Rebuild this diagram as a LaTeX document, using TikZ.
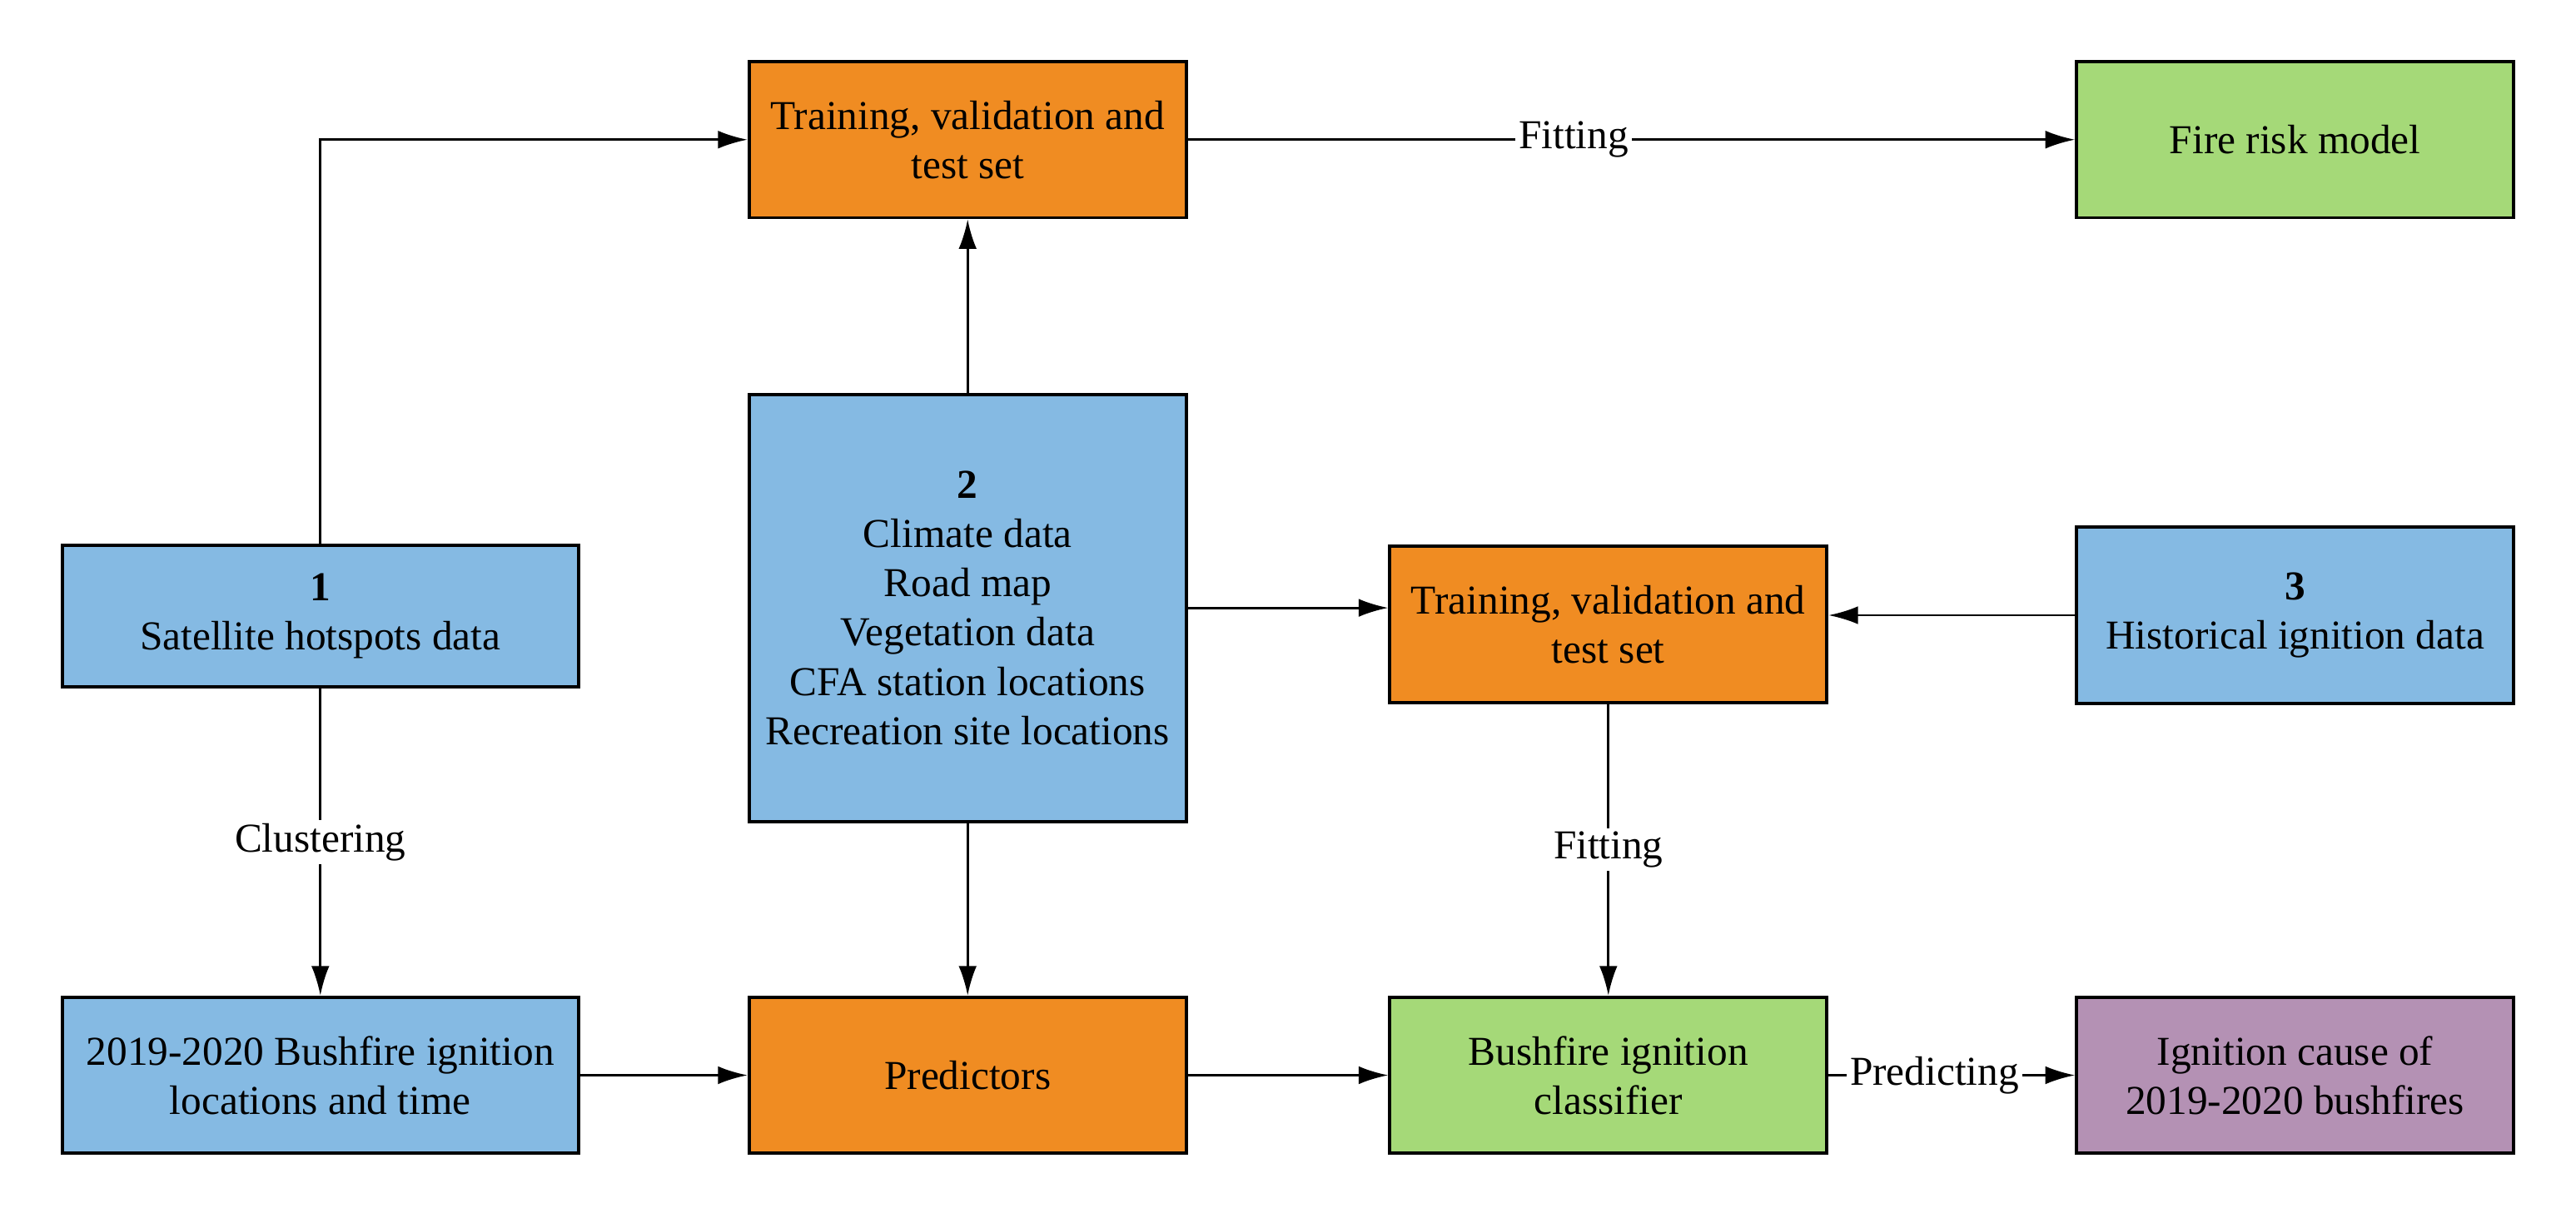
\documentclass[tikz,border=0pt]{standalone}
\usepackage{fontspec}
\setmainfont{Liberation Serif}
\usetikzlibrary{positioning, arrows.meta}
\definecolor{cblue}{RGB}{133,186,227}
\definecolor{orng}{RGB}{240,140,34}
\definecolor{lgrn}{RGB}{165,217,120}
\definecolor{prpl}{RGB}{180,145,180}
\begin{document}
\begin{tikzpicture}[x=0.5pt, y=-0.5pt,
               >= {Latex[length=9pt,width=5.5pt]},
every node/.style = {font=\fontsize{12.5}{15}\selectfont},
        box/.style = {rectangle, draw, line width=1pt, fill=#1, align=center,
                     inner sep=2pt, minimum width=133pt, minimum height=47.5pt},
        lbl/.style = {fill=white, inner sep=1pt},
      every path/.style = {line width=0.7pt}
                        ]
\useasboundingbox (0,0) rectangle (1568,741.4);
\node (trainA) [box=orng] at (589,85) {Training, validation and\\test set};
\node (risk) [box=lgrn] at (1397,85) {Fire risk model};
\node (sat) [box=cblue, minimum width=157pt, minimum height=43pt] at (195,375) {\textbf{1}\\Satellite hotspots data};
\node (clim) [box=cblue, minimum height=130pt] at (589,370) {\textbf{2}\\Climate data\\Road map\\Vegetation data\\CFA station locations\\Recreation site locations};
\node (trainB) [box=orng] at (979,380) {Training, validation and\\test set};
\node (hist) [box=cblue, minimum height=53.5pt] at (1397,374.5) {\textbf{3}\\Historical ignition data};
\node (loc) [box=cblue, minimum width=157pt, below=93.5pt of sat] {2019-2020 Bushfire ignition\\locations and time};
\node (pred) [box=orng, right=51pt of loc] {Predictors};
\node (clf) [box=lgrn, right=61pt of pred] {Bushfire ignition\\classifier};
\node (cause) [box=prpl, right=75pt of clf] {Ignition cause of\\2019-2020 bushfires};
\draw[->] (sat.north) |- (trainA.west);
\draw[->] (trainA) -- node[lbl, pos=0.435] {Fitting} (risk);
\draw[->] (clim) -- (trainA);
\draw[->] (clim.east) -- (clim.east -| trainB.west);
\draw[->] (hist.west) -- (hist.west -| trainB.east);
\draw[->] (trainB) -- node[lbl] {Fitting} (clf);
\draw[->] (sat) -- node[lbl] {Clustering} (loc);
\draw[->] (clim) -- (pred);
\draw[->] (loc) -- (pred);
\draw[->] (pred) -- (clf);
\draw[->] (clf) -- node[lbl, pos=0.43] {Predicting} (cause);
\end{tikzpicture}
\end{document}
